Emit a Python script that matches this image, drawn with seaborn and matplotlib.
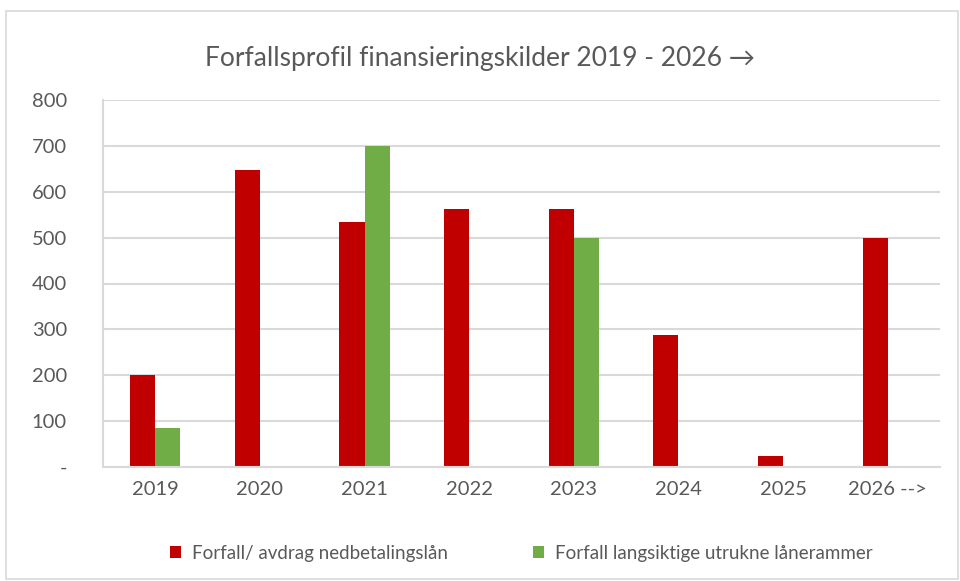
import pandas as pd
import matplotlib.pyplot as plt
import seaborn as sns
from matplotlib.patches import Rectangle

# Chart data
years = ['2019', '2020', '2021', '2022', '2023', '2024', '2025', '2026 -->']
nedbetalingslan = [200, 647, 533, 563, 563, 287, 23, 500]
laanerammer = [85, 0, 700, 0, 500, 0, 0, 0]
series_names = ['Forfall/ avdrag nedbetalingslån', 'Forfall langsiktige utrukne lånerammer']
y_ticks = [0, 100, 200, 300, 400, 500, 600, 700, 800]
y_tick_labels = ['-', '100', '200', '300', '400', '500', '600', '700', '800']

df = pd.DataFrame({
    'year': years * 2,
    'value': nedbetalingslan + laanerammer,
    'serie': [series_names[0]] * len(years) + [series_names[1]] * len(years),
})

sns.set_style('white')
plt.rcParams['font.family'] = ['Lato', 'DejaVu Sans']
text_color = '#595959'

fig = plt.figure(figsize=(9.6, 5.81), dpi=100)
ax = fig.add_axes([103 / 960, 1 - 467 / 581, (940 - 103) / 960, (467 - 100) / 581])

sns.barplot(data=df, x='year', y='value', hue='serie',
            palette=['#c00000', '#70ad47'], saturation=1, width=0.48, ax=ax,
            edgecolor='none', legend=True)

ax.set_ylim(0, 800)
ax.set_yticks(y_ticks)
ax.set_yticklabels(y_tick_labels)
ax.yaxis.grid(True, color='#d9d9d9', linewidth=1.5)
ax.set_axisbelow(True)
ax.set_xlabel('')
ax.set_ylabel('')
for side in ['top', 'right']:
    ax.spines[side].set_visible(False)
ax.spines['left'].set_color('#d9d9d9')
ax.spines['left'].set_linewidth(1.5)
ax.spines['bottom'].set_color('#d9d9d9')
ax.spines['bottom'].set_linewidth(1.5)
ax.tick_params(axis='both', length=0, labelsize=14.5, colors=text_color)
ax.tick_params(axis='y', pad=26)
ax.tick_params(axis='x', pad=10)

ax.legend(loc='center', bbox_to_anchor=(0.5, -0.235), ncol=2, frameon=False,
          fontsize=13.5, labelcolor=text_color, handlelength=0.6, handleheight=0.6,
          columnspacing=4.5, handletextpad=0.6)

fig.suptitle('Forfallsprofil finansieringskilder 2019 - 2026 →', y=1 - 46 / 581,
             fontsize=19, color=text_color)

# outer chart border like Excel
fig.patches.append(Rectangle((6 / 960, 2 / 581), 952 / 960, 568 / 581,
                             transform=fig.transFigure, fill=False,
                             edgecolor='#d9d9d9', linewidth=1.2))

fig.savefig('out.png', dpi=100)
